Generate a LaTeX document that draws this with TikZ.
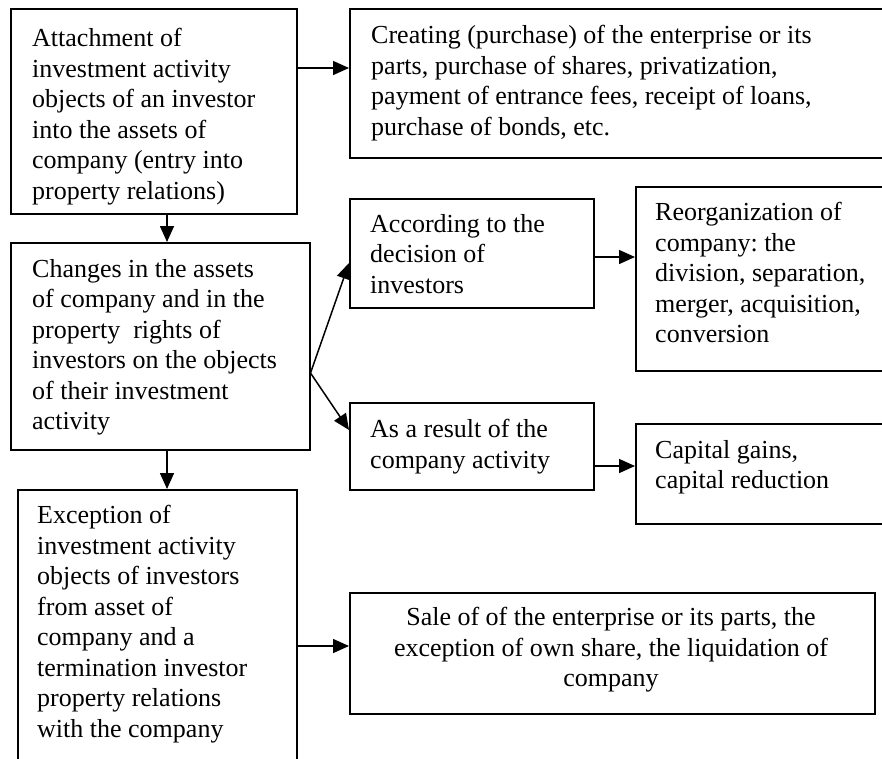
\documentclass[tikz,border=0pt]{standalone}
\usepackage{fontspec}
\setmainfont{Liberation Serif}
\usetikzlibrary{arrows.meta,calc}
\newcommand{\fl}{\rule{0pt}{18pt}}
\frenchspacing
\begin{document}
\begin{tikzpicture}[x=1pt,y=-1pt,
  box/.style={draw, line width=1.5pt, inner sep=0pt, anchor=north west},
  txt/.style={inner sep=0pt, anchor=north west, align=left, font=\fontsize{26}{30.5}\selectfont},
  arr/.style={line width=1.5pt, -{Triangle[length=16pt,width=14pt]}}]
\useasboundingbox (0,0) rectangle (882,758);
\fill[white] (0,0) rectangle (882,758);
\clip (0,0) rectangle (882,758);
% boxes
\node[box, minimum width=286pt, minimum height=205pt] (A) at (10,8) {};
\node[box, minimum width=560pt, minimum height=149pt] (B) at (349,8) {};
\node[box, minimum width=244pt, minimum height=109pt] (C) at (349,198) {};
\node[box, minimum width=260pt, minimum height=184pt] (R) at (635,186) {};
\node[box, minimum width=244pt, minimum height=87pt] (D) at (349,402) {};
\node[box, minimum width=260pt, minimum height=100pt] (K) at (635,423) {};
\node[box, minimum width=299pt, minimum height=207pt] (E) at (10,242) {};
\node[box, minimum width=279pt, minimum height=320pt] (F) at (17,489) {};
\node[box, minimum width=525pt, minimum height=121pt] (G) at (349,592) {};
% texts
\node[txt] (tA) at (32,28) {\fl Attachment of\\investment activity\\objects of an investor\\into the assets of\\company (entry into\\property relations)};
\node[txt] (tB) at (371,25) {\fl Creating (purchase) of the enterprise or its\\parts, purchase of shares, privatization,\\payment of entrance fees, receipt of loans,\\purchase of bonds, etc.};
\node[txt] (tE) at (32,259) {\fl Changes in the assets\\of company and in the\\property~ rights of\\investors on the objects\\of their investment\\activity};
\node[txt] (tC) at (370,214) {\fl According to the\\decision of\\investors};
\node[txt] (tD) at (370,419) {\fl As a result of the\\company activity};
\node[txt] (tR) at (655,202) {\fl Reorganization of\\company: the\\division, separation,\\merger, acquisition,\\conversion};
\node[txt] (tK) at (655,440) {\fl Capital gains,\\capital reduction};
\node[txt] (tF) at (37,505) {\fl Exception of\\investment activity\\objects of investors\\from asset of\\company and a\\termination investor\\property relations\\with the company};
\node[txt, anchor=north, align=center] (tG) at (611,607) {\fl Sale of of the enterprise or its parts, the\\exception of own share, the liquidation of\\company};
% connectors
\draw[arr] ($(A.north east)+(0,60)$) -- ($(B.north west)+(0,60)$);
\draw[arr] ($(A.south west)+(157,0)$) -- ($(E.north west)+(157,0)$);
\draw[arr] ($(E.south west)+(157,0)$) -- ($(F.north west)+(150,0)$);
\coordinate (split) at ($(E.north east)+(0,131)$);
\draw[arr] (split) -- ($(C.north west)+(0,65)$);
\draw[arr] (split) -- ($(D.north west)+(0,28)$);
\draw[arr] ($(C.north east)+(0,59)$) -- ($(R.north west)+(0,71)$);
\draw[arr] ($(D.north east)+(0,64)$) -- ($(K.north west)+(0,43)$);
\draw[arr] ($(F.north east)+(0,157)$) -- ($(G.north west)+(0,54)$);
\end{tikzpicture}
\end{document}
